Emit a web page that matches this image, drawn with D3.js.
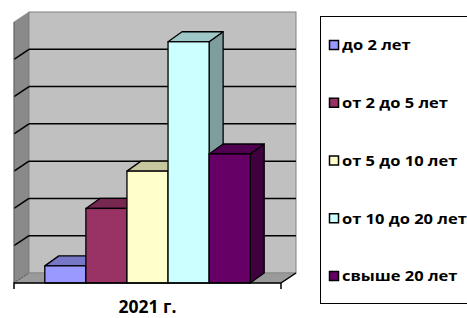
<!DOCTYPE html>
<html>
<head>
<meta charset="utf-8">
<script src="https://cdn.jsdelivr.net/npm/d3@7"></script>
<style>
  body { margin: 0; background: #fff; }
  svg { display: block; }
  text { font-family: "Open Sans", Lato, sans-serif; font-weight: bold; fill: #000; }
</style>
</head>
<body>
<div id="chart"></div>
<script>
'use strict';

// data
const categories = ["2021 г."];
const seriesNames = ["до 2 лет", "от 2 до 5 лет", "от 5 до 10 лет", "от 10 до 20 лет", "свыше 20 лет"];
const seriesValues = [4.6, 20, 30, 64.7, 34.6];
const seriesColors = ["#9999FF", "#993366", "#FFFFCC", "#CCFFFF", "#660066"];
const yTicks = [0, 10, 20, 30, 40, 50, 60, 70];

const width = 467, height = 318;
const depth = { dx: 15, dy: -10 };
const plot = { left: 14, right: 281, top: 22, bottom: 283 };

const svg = d3.select("#chart").append("svg")
  .attr("width", width)
  .attr("height", height);

const x0 = d3.scaleBand()
  .domain(categories)
  .range([plot.left, plot.right]);

const x1 = d3.scaleBand()
  .domain(seriesNames)
  .range([x0(categories[0]), x0(categories[0]) + x0.bandwidth()])
  .paddingInner(0)
  .paddingOuter(0.75);

const y = d3.scaleLinear()
  .domain([0, 70])
  .range([plot.bottom, plot.top]);

const shade = (c, k) => {
  const r = d3.rgb(c);
  return d3.rgb(r.r * k, r.g * k, r.b * k).formatHex();
};

// walls
const walls = svg.append("g");
// left side wall
walls.append("path")
  .attr("d", `M${plot.left},${y(70)} L${plot.left + depth.dx},${y(70) + depth.dy} L${plot.left + depth.dx},${y(0) + depth.dy} L${plot.left},${y(0)} Z`)
  .attr("fill", "#8a8a8a")
  .attr("stroke", "#777")
  .attr("stroke-width", 0.6);
// back wall
walls.append("rect")
  .attr("x", plot.left + depth.dx)
  .attr("y", y(70) + depth.dy)
  .attr("width", plot.right - plot.left)
  .attr("height", y(0) - y(70))
  .attr("fill", "#c0c0c0")
  .attr("stroke", "#808080")
  .attr("stroke-width", 1);
// floor
walls.append("path")
  .attr("d", `M${plot.left},${y(0)} L${plot.right},${y(0)} L${plot.right + depth.dx},${y(0) + depth.dy} L${plot.left + depth.dx},${y(0) + depth.dy} Z`)
  .attr("fill", "#9a9a9a")
  .attr("stroke", "#808080")
  .attr("stroke-width", 0.6);

// gridlines on back and side walls
const grid = yTicks.filter(t => t > 0 && t < 70);
walls.selectAll(".gridBack")
  .data(grid)
  .join("line")
  .attr("x1", plot.left + depth.dx)
  .attr("x2", plot.right + depth.dx)
  .attr("y1", d => y(d) + depth.dy)
  .attr("y2", d => y(d) + depth.dy)
  .attr("stroke", "#000")
  .attr("stroke-width", 1.5);
walls.selectAll(".gridSide")
  .data(grid)
  .join("line")
  .attr("x1", plot.left)
  .attr("x2", plot.left + depth.dx)
  .attr("y1", d => y(d))
  .attr("y2", d => y(d) + depth.dy)
  .attr("stroke", "#000")
  .attr("stroke-width", 1.5);

// floor edges and axis
walls.append("line")
  .attr("x1", plot.right).attr("y1", y(0))
  .attr("x2", plot.right + depth.dx).attr("y2", y(0) + depth.dy)
  .attr("stroke", "#000").attr("stroke-width", 1.5);
walls.append("line")
  .attr("x1", plot.left).attr("y1", y(0))
  .attr("x2", plot.left + depth.dx).attr("y2", y(0) + depth.dy)
  .attr("stroke", "#555").attr("stroke-width", 1)
  .attr("stroke-dasharray", "2,1");
walls.append("line")
  .attr("x1", plot.left).attr("x2", plot.left)
  .attr("y1", y(70)).attr("y2", y(0))
  .attr("stroke", "#666").attr("stroke-width", 1);

// bars
const bars = svg.append("g")
  .selectAll("g")
  .data(seriesNames.map((name, i) => ({ name, value: seriesValues[i], color: seriesColors[i] })))
  .join("g");

bars.each(function(d) {
  const g = d3.select(this);
  const x = x1(d.name), w = x1.bandwidth();
  const yt = y(d.value), yb = y(0);
  const dx = depth.dx - 1, dy = depth.dy;
  g.append("path")
    .attr("d", `M${x + w},${yt} L${x + w + dx},${yt + dy} L${x + w + dx},${yb + dy} L${x + w},${yb} Z`)
    .attr("fill", shade(d.color, 0.62))
    .attr("stroke", "#000").attr("stroke-width", 1.3).attr("stroke-linejoin", "round");
  g.append("path")
    .attr("d", `M${x},${yt} L${x + dx},${yt + dy} L${x + w + dx},${yt + dy} L${x + w},${yt} Z`)
    .attr("fill", shade(d.color, 0.78))
    .attr("stroke", "#000").attr("stroke-width", 1.3).attr("stroke-linejoin", "round");
  g.append("rect")
    .attr("x", x).attr("y", yt)
    .attr("width", w).attr("height", yb - yt)
    .attr("fill", d.color)
    .attr("stroke", "#000").attr("stroke-width", 1.3);
});

// front baseline with end ticks
svg.append("path")
  .attr("d", `M${plot.left},${y(0) + 6} L${plot.left},${y(0)} L${plot.right},${y(0)} L${plot.right},${y(0) + 6}`)
  .attr("fill", "none")
  .attr("stroke", "#000")
  .attr("stroke-width", 1.5);

// category label
svg.selectAll(".cat")
  .data(categories)
  .join("text")
  .attr("x", d => x0(d) + x0.bandwidth() / 2)
  .attr("y", 313)
  .attr("text-anchor", "middle")
  .style("font-size", "17.5px")
  .text(d => d);

// legend
const legend = svg.append("g");
legend.append("rect")
  .attr("x", 320.5).attr("y", 16.5)
  .attr("width", 160).attr("height", 287)
  .attr("fill", "#fff")
  .attr("stroke", "#000")
  .attr("stroke-width", 1);

const ly = d3.scalePoint()
  .domain(seriesNames)
  .range([45, 276]);

const items = legend.selectAll(".item")
  .data(seriesNames)
  .join("g")
  .attr("transform", d => `translate(329,${ly(d)})`);

items.append("rect")
  .attr("x", 0.5).attr("y", -4.5)
  .attr("width", 9).attr("height", 9)
  .attr("fill", (d, i) => seriesColors[i])
  .attr("stroke", "#000")
  .attr("stroke-width", 1.5);

items.append("text")
  .attr("transform", "translate(13,0) scale(1.1,1)")
  .attr("dy", "0.35em")
  .style("font-size", "15px")
  .text(d => d);
</script>
</body>
</html>
